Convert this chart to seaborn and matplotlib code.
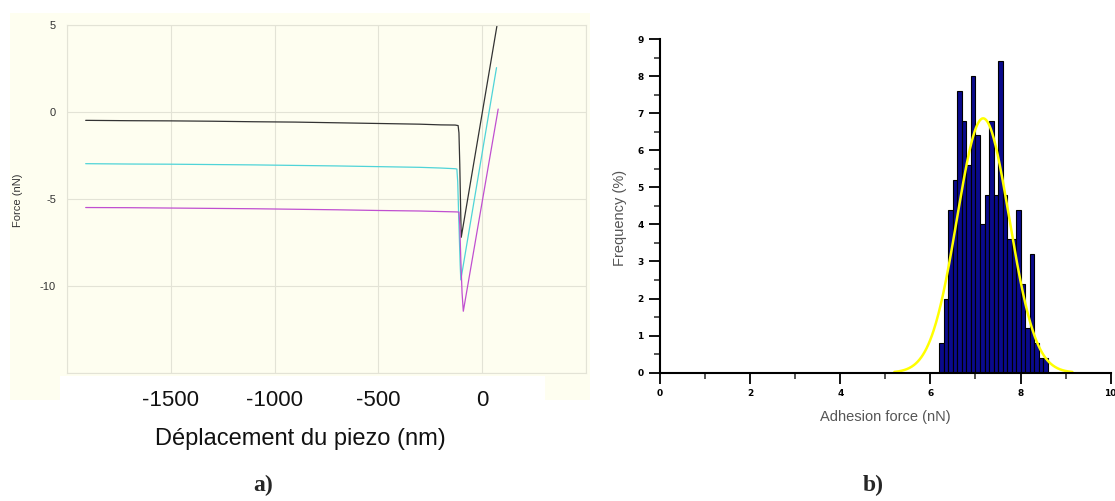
import numpy as np
import pandas as pd
import matplotlib
matplotlib.use("Agg")
import matplotlib.pyplot as plt
import seaborn as sns
from matplotlib.patches import Rectangle
from matplotlib.ticker import MultipleLocator

# ---------------- panel a) : force curves (piezo displacement nm, force nN) ----------------
black_x = [-1910, -1700, -1500, -1300, -1100, -900, -700, -500, -300, -200, -130, -116, -112, -108, -104, -101, 71]
black_y = [-0.48, -0.50, -0.51, -0.53, -0.56, -0.58, -0.62, -0.66, -0.70, -0.74, -0.75, -0.78, -1.2, -3.0, -5.5, -7.2, 4.95]

cyan_x = [-1910, -1700, -1500, -1300, -1100, -900, -700, -500, -300, -200, -130, -122, -118, -112, -106, -103, 69]
cyan_y = [-2.97, -2.99, -3.00, -3.02, -3.04, -3.07, -3.10, -3.14, -3.18, -3.22, -3.26, -3.28, -4.0, -6.5, -8.8, -9.65, 2.55]

magenta_x = [-1910, -1700, -1500, -1300, -1100, -900, -700, -500, -300, -200, -130, -112, -108, -103, -97, -91, 77]
magenta_y = [-5.49, -5.50, -5.52, -5.54, -5.56, -5.59, -5.62, -5.66, -5.69, -5.72, -5.74, -5.75, -6.5, -8.5, -10.4, -11.45, 0.17]

curve_names = ["black", "cyan", "magenta"]
curve_colors = ["#333333", "#4fd4d8", "#c04fd0"]

x_ticks_a = [-2000, -1500, -1000, -500, 0, 500]
x_ticklabels_a = ["", "-1500", "-1000", "-500", "0", ""]
y_ticks_a = [-15, -10, -5, 0, 5]
y_ticklabels_a = ["", "-10", "-5", "0", "5"]

# ---------------- panel b) : adhesion force histogram ----------------
bin_left = [6.2, 6.3, 6.4, 6.5, 6.6, 6.7, 6.8, 6.9, 7.0, 7.1, 7.2, 7.3,
            7.4, 7.5, 7.6, 7.7, 7.8, 7.9, 8.0, 8.1, 8.2, 8.3, 8.4, 8.5]
freq_pct = [0.8, 2.0, 4.4, 5.2, 7.6, 6.8, 5.6, 8.0, 6.4, 4.0, 4.8, 6.8,
            4.8, 8.4, 4.8, 3.6, 3.6, 4.4, 2.4, 1.2, 3.2, 0.8, 0.4, 0.4]
bin_width = 0.1
# Gaussian fit parameters
fit_center = 7.17
fit_sigma = 0.58
fit_amplitude = 6.86
fit_range = (5.2, 9.15)

# ---------------- figure ----------------
W, H = 1115, 501
fig = plt.figure(figsize=(W / 100, H / 100), dpi=100)
fig.patch.set_facecolor("white")
sns.set_style("white")
plt.rcParams["font.family"] = ["Liberation Sans", "DejaVu Sans"]

cream = "#fefef0"
gridc = "#e3e3d6"

def fx(px):
    return px / W

def fy(py):
    return 1 - py / H

# decorative cream panel behind the left chart, with white strip behind the tick labels
fig.add_artist(Rectangle((fx(10), fy(400)), fx(590) - fx(10), fy(13) - fy(400),
                         transform=fig.transFigure, facecolor=cream, edgecolor="none", zorder=-2))
fig.add_artist(Rectangle((fx(60), fy(412)), fx(545) - fx(60), fy(376) - fy(412),
                         transform=fig.transFigure, facecolor="white", edgecolor="none", zorder=-1))

# ---- left axes ----
axa = fig.add_axes([fx(67), fy(373), fx(586) - fx(67), fy(25) - fy(373)])
axa.set_facecolor(cream)

rows = []
for name, xs, ys in [("black", black_x, black_y), ("cyan", cyan_x, cyan_y), ("magenta", magenta_x, magenta_y)]:
    for i, (xv, yv) in enumerate(zip(xs, ys)):
        rows.append({"curve": name, "order": i, "x": xv, "y": yv})
df_a = pd.DataFrame(rows)
sns.lineplot(data=df_a, x="x", y="y", hue="curve", hue_order=curve_names,
             palette=dict(zip(curve_names, curve_colors)), sort=False, estimator=None,
             legend=False, linewidth=0.9, ax=axa)

axa.set_xlim(-2000, 500)
axa.set_ylim(-15, 5)
axa.set_xticks(x_ticks_a)
axa.set_xticklabels(x_ticklabels_a)
axa.set_yticks(y_ticks_a)
axa.set_yticklabels(y_ticklabels_a)
axa.grid(True, color=gridc, linewidth=0.8)
axa.set_axisbelow(True)
for s in axa.spines.values():
    s.set_color(gridc)
    s.set_linewidth(0.8)
axa.tick_params(axis="both", length=0)
axa.tick_params(axis="x", labelsize=16, pad=12, labelcolor="#111111")
axa.tick_params(axis="y", labelsize=8, pad=8, labelcolor="#333333")
axa.set_ylabel("Force (nN)", fontsize=8, color="#333333")
axa.yaxis.set_label_coords(-0.085, 0.497)
axa.set_xlabel("Déplacement du piezo (nm)", fontsize=17, color="#111111")
axa.xaxis.set_label_coords(0.449, -0.158)

# ---- right axes ----
axb = fig.add_axes([fx(660), fy(372.7), fx(1110.7) - fx(660), fy(39) - fy(372.7)])
axb.set_facecolor("white")
centers = [b + bin_width / 2 for b in bin_left]
edges = bin_left + [bin_left[-1] + bin_width]
sns.histplot(x=centers, weights=freq_pct, bins=edges, color="#0a0a8c", edgecolor="black",
             linewidth=0.8, alpha=1.0, ax=axb)

gx = np.linspace(fit_range[0], fit_range[1], 300)
gy = fit_amplitude * np.exp(-(gx - fit_center) ** 2 / (2 * fit_sigma ** 2))
sns.lineplot(x=gx, y=gy, color="#ffff00", linewidth=1.8, ax=axb)

axb.set_xlim(0, 10)
axb.set_ylim(0, 9)
axb.xaxis.set_major_locator(MultipleLocator(2))
axb.xaxis.set_minor_locator(MultipleLocator(1))
axb.yaxis.set_major_locator(MultipleLocator(1))
axb.yaxis.set_minor_locator(MultipleLocator(0.5))
for side in ["top", "right"]:
    axb.spines[side].set_visible(False)
for side in ["left", "bottom"]:
    axb.spines[side].set_color("black")
    axb.spines[side].set_linewidth(1.5)
axb.tick_params(axis="both", which="major", direction="out", length=7.7, width=1.3,
                labelsize=6.5, pad=4, colors="black", bottom=True, left=True)
axb.tick_params(axis="both", which="minor", direction="out", length=4, width=1.1,
                bottom=True, left=True)
for lab in axb.get_xticklabels() + axb.get_yticklabels():
    lab.set_fontweight("bold")
    lab.set_family(["DejaVu Sans"])
axb.set_xlabel("Adhesion force (nN)", fontsize=10.5, color="#555555")
axb.xaxis.set_label_coords(0.499, -0.112)
axb.set_ylabel("Frequency (%)", fontsize=10.5, color="#555555")
axb.yaxis.set_label_coords(-0.073, 0.464)

# panel letters
fig.text(fx(263), fy(485), "a)", fontsize=17, fontweight="bold", family=["Liberation Serif"],
         ha="center", va="center")
fig.text(fx(873), fy(485), "b)", fontsize=17, fontweight="bold", family=["Liberation Serif"],
         ha="center", va="center")

fig.savefig("out.png", dpi=100, facecolor="white")
